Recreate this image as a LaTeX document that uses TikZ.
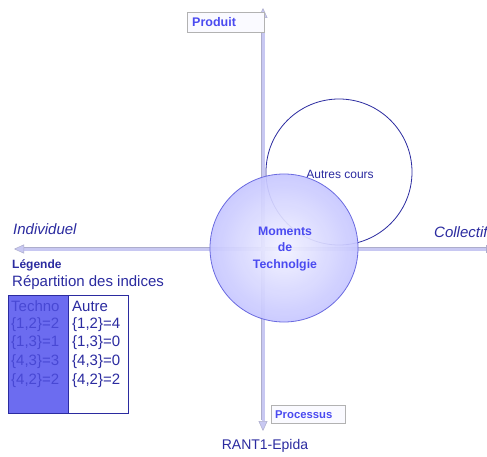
\documentclass[tikz,border=0pt]{standalone}
\usepackage{fontspec}
\setmainfont{Liberation Sans}
\usetikzlibrary{arrows.meta}
\definecolor{axisc}{HTML}{C8C8F2}
\definecolor{axisedge}{HTML}{ADADCC}
\definecolor{dblue}{HTML}{2B2BA0}
\definecolor{mblue}{HTML}{4A4AF0}
\definecolor{tfill}{HTML}{6C6CF0}
\definecolor{ttext}{HTML}{4848D4}
\definecolor{sphedge}{HTML}{6A6AE0}
\begin{document}
\begin{tikzpicture}[x=1pt,y=-1pt,
  axis/.style={line width=3pt, axisc, -{Triangle[length=10pt,width=9pt,color=axisedge,fill=axisc,line width=0.5pt]}},
  lblbox/.style={draw=gray!60, fill=blue!2, inner sep=0, anchor=north west, text=mblue, align=left, font=\bfseries\fontsize{12.5}{14}\selectfont},
  axlabel/.style={anchor=west, inner sep=0, text=dblue, font=\itshape\fontsize{15}{18}\selectfont},
  cell/.style={anchor=west, inner sep=0, font=\fontsize{15}{18}\selectfont},
  colbox/.style={draw=dblue, line width=0.8pt, minimum width=60, minimum height=118, anchor=north west, inner sep=0}]
\useasboundingbox (0,0) rectangle (487,457);
\fill[white] (0,0) rectangle (487,457);

% Autres cours circle
\node[circle, draw=dblue, line width=0.8pt, minimum size=146, inner sep=0] (autres) at (339,172) {};
\node[inner sep=0, text=dblue, font=\fontsize{12}{14}\selectfont] (autreslbl) at (340,174) {Autres cours};

% axes
\coordinate (top) at (263,8);
\coordinate (bot) at (263,431);
\coordinate (left) at (14,249);
\coordinate (right) at (486,249);
\coordinate (cen) at (263,249);
\draw[line width=3.8pt, axisedge] (263,420) -- (263,18);
\draw[line width=3.8pt, axisedge] (486,249) -- (24,249);
\draw[axis] (cen) -- (top);
\draw[axis] (cen) -- (bot);
\draw[axis] (cen) -- (left);
\draw[line width=3pt, axisc] (cen) -- (right);
\draw[axisedge, line width=1pt] (486,245) -- (486,253);

% sphere
\node[circle, minimum size=148, inner sep=0, draw=sphedge, line width=0.8pt,
      fill opacity=0.92, inner color=blue!5, outer color=blue!22] (sphere) at (284,248) {};
\node[align=center, inner sep=0, text=mblue, font=\bfseries\fontsize{12.3}{16.5}\selectfont] (sphtxt) at (285,249) {Moments\\de\\Technolgie};

% axis labels
\node[lblbox, minimum width=75, minimum height=20, text width=67, inner xsep=5pt] (produit) at (187,12) {Produit};
\node[lblbox, minimum width=72, minimum height=18, text width=66, inner xsep=4pt, font=\bfseries\fontsize{11.3}{13}\selectfont] (processus) at (271,405) {Processus};
\node[axlabel] (indiv) at (13,229) {Individuel};
\node[axlabel] (coll) at (434,232) {Collectif};

% legend
\node[anchor=west, inner sep=0, text=dblue, font=\bfseries\fontsize{12}{14}\selectfont] (legende) at (12,265) {Légende};
\node[anchor=west, inner sep=0, text=dblue, font=\fontsize{15}{18}\selectfont] (repart) at (12,283) {Répartition des indices};
\node[colbox, fill=tfill] (techcol) at (8,295) {};
\node[colbox, fill=white] (autrecol) at (68,295) {};
\node[cell, text=ttext] (t0) at (11,306) {Techno};
\node[cell, text=ttext] (t1) at (11,325) {\{1,2\}=2};
\node[cell, text=ttext] (t2) at (11,343) {\{1,3\}=1};
\node[cell, text=ttext] (t3) at (11,362) {\{4,3\}=3};
\node[cell, text=ttext] (t4) at (11,381) {\{4,2\}=2};
\node[cell, text=dblue] (a0) at (72,306) {Autre};
\node[cell, text=dblue] (a1) at (72,325) {\{1,2\}=4};
\node[cell, text=dblue] (a2) at (72,343) {\{1,3\}=0};
\node[cell, text=dblue] (a3) at (72,362) {\{4,3\}=0};
\node[cell, text=dblue] (a4) at (72,381) {\{4,2\}=2};

% caption
\node[inner sep=0, text=dblue, font=\fontsize{14}{16}\selectfont] (caption) at (265,446) {RANT1-Epida};
\end{tikzpicture}
\end{document}
